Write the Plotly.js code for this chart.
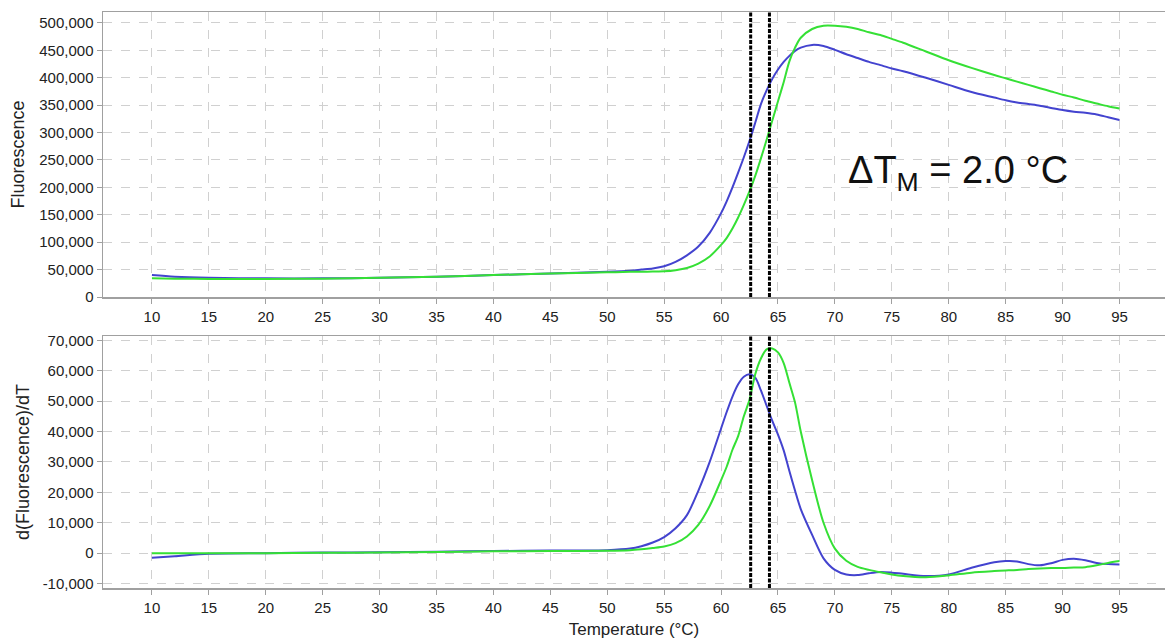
<!DOCTYPE html>
<html>
<head>
<meta charset="utf-8">
<script src="https://cdn.plot.ly/plotly-3.0.1.min.js"></script>
<style>
  html, body { margin: 0; padding: 0; background: #ffffff; }
  #chart { width: 1165px; height: 641px; }
</style>
</head>
<body>
<div id="chart"></div>
<script>
// Temperature (°C)
const temp = [10, 12, 15, 20, 25, 30, 35, 40, 45, 50, 52, 53, 54, 55, 56, 57, 58, 59, 60, 60.5,
  61, 61.5, 62, 62.5, 63, 63.5, 64, 64.5, 65, 65.5, 66, 66.5, 67, 68, 69, 70, 71, 72, 73, 74,
  75, 76, 78, 80, 82, 84, 85, 86, 87, 88, 89, 90, 91, 92, 93, 94, 95];

// Fluorescence (top panel)
const fluorBlue = [40000, 37000, 35000, 34000, 34000, 35000, 37000, 40000, 43000, 46000, 48000, 50000, 52000, 56000, 64000, 76000, 92000, 117000, 153000, 175000,
  200000, 227000, 255000, 285000, 318000, 352000, 377000, 398000, 415000, 429000, 440000, 449000, 455000, 460000, 458000, 451000, 443000, 436000, 429000, 423000,
  417000, 412000, 400000, 387000, 374000, 364000, 359000, 355000, 352000, 349000, 345000, 341000, 338000, 336000, 333000, 328000, 323000];
const fluorGreen = [34000, 33500, 33000, 33000, 33500, 35000, 37000, 40000, 43000, 45000, 46000, 46000, 46500, 47000, 49000, 53000, 61000, 74000, 95000, 108000,
  125000, 145000, 168000, 193000, 221000, 253000, 287000, 322000, 357000, 392000, 430000, 455000, 473000, 489000, 495000, 495000, 493000, 489000, 483000, 478000,
  471000, 464000, 448000, 432000, 418000, 405000, 399000, 393000, 387000, 381000, 375000, 369000, 364000, 358000, 353000, 348000, 344000];

// d(Fluorescence)/dT (bottom panel)
const derivBlue = [-1500, -1000, -200, 0, 200, 300, 500, 700, 900, 1000, 1500, 2300, 3500, 5300, 8200, 12500, 20500, 30000, 41000, 46500,
  51500, 55500, 58000, 58800, 57700, 53500, 48500, 43500, 39000, 33800, 27000, 20500, 14500, 6000, -1700, -5500, -7000, -7200, -6600, -6200,
  -6400, -6800, -7500, -7000, -4800, -3000, -2600, -2700, -3600, -4000, -3300, -2200, -1800, -2300, -3200, -3600, -3700];
const derivGreen = [0, 0, 0, 0, 100, 200, 400, 600, 700, 800, 1000, 1300, 1700, 2200, 3300, 5500, 9300, 15500, 24000, 28500,
  34000, 38500, 45000, 50500, 58800, 64000, 67000, 67300, 66000, 62500, 56000, 49500, 40000, 24000, 10000, 1500, -2500, -4500, -5500, -6300,
  -7000, -7500, -7900, -7300, -6400, -5900, -5700, -5500, -5200, -5000, -4900, -4900, -4700, -4600, -4000, -3200, -2600];

// Melting temperatures (vertical markers)
const tmBlue = 62.6;
const tmGreen = 64.25;

const xTicks = [10, 15, 20, 25, 30, 35, 40, 45, 50, 55, 60, 65, 70, 75, 80, 85, 90, 95];
const fluorTicks = [0, 50000, 100000, 150000, 200000, 250000, 300000, 350000, 400000, 450000, 500000];
const derivTicks = [-10000, 0, 10000, 20000, 30000, 40000, 50000, 60000, 70000];

const BLUE = '#4343cf';
const GREEN = '#35e035';
const FONT = 'Liberation Sans, Arial, sans-serif';

function fmt(v) { return v.toLocaleString('en-US'); }

const lineStyle = (c) => ({ color: c, width: 2, shape: 'spline', smoothing: 0.8 });

const traces = [
  { x: temp, y: fluorBlue, xaxis: 'x', yaxis: 'y', mode: 'lines', line: lineStyle(BLUE), hoverinfo: 'x+y' },
  { x: temp, y: fluorGreen, xaxis: 'x', yaxis: 'y', mode: 'lines', line: lineStyle(GREEN), hoverinfo: 'x+y' },
  { x: temp, y: derivBlue, xaxis: 'x2', yaxis: 'y2', mode: 'lines', line: lineStyle(BLUE), hoverinfo: 'x+y' },
  { x: temp, y: derivGreen, xaxis: 'x2', yaxis: 'y2', mode: 'lines', line: lineStyle(GREEN), hoverinfo: 'x+y' }
];

const axisCommon = {
  showline: true, linecolor: '#a0a0a0', linewidth: 1.5, mirror: true,
  ticks: 'outside', ticklen: 5, tickcolor: '#a0a0a0', tickwidth: 1,
  showgrid: true, gridcolor: '#d0d0d0', gridwidth: 1, griddash: 'dash',
  zeroline: false,
  tickfont: { family: FONT, size: 15, color: '#222222' }
};

const xRange = [5.7, 99.0];

const layout = {
  width: 1165, height: 641,
  margin: { l: 103, r: 0, t: 12, b: 53 },
  paper_bgcolor: '#ffffff', plot_bgcolor: '#ffffff',
  showlegend: false,
  font: { family: FONT, color: '#222222' },
  xaxis: Object.assign({}, axisCommon, {
    domain: [0, 1], anchor: 'y', range: xRange,
    tickmode: 'array', tickvals: xTicks, ticktext: xTicks.map(String)
  }),
  yaxis: Object.assign({}, axisCommon, {
    domain: [0.5052, 1], anchor: 'x', range: [0, 520000],
    tickmode: 'array', tickvals: fluorTicks, ticktext: fluorTicks.map(fmt),
    title: { text: 'Fluorescence', font: { family: FONT, size: 18, color: '#222222' }, standoff: 10 }
  }),
  xaxis2: Object.assign({}, axisCommon, {
    domain: [0, 1], anchor: 'y2', range: xRange,
    tickmode: 'array', tickvals: xTicks, ticktext: xTicks.map(String),
    title: { text: 'Temperature (°C)', font: { family: FONT, size: 17, color: '#222222' }, standoff: 8 }
  }),
  yaxis2: Object.assign({}, axisCommon, {
    domain: [0, 0.4375], anchor: 'x2', range: [-11450, 71400],
    tickmode: 'array', tickvals: derivTicks, ticktext: derivTicks.map(fmt),
    title: { text: 'd(Fluorescence)/dT', font: { family: FONT, size: 18, color: '#222222' }, standoff: 8 }
  }),
  shapes: [
    { type: 'line', xref: 'x', yref: 'y domain', x0: tmBlue, x1: tmBlue, y0: 0, y1: 1, line: { color: '#000000', width: 3, dash: '4px,1.5px' } },
    { type: 'line', xref: 'x', yref: 'y domain', x0: tmGreen, x1: tmGreen, y0: 0, y1: 1, line: { color: '#000000', width: 3, dash: '4px,1.5px' } },
    { type: 'line', xref: 'x2', yref: 'y2 domain', x0: tmBlue, x1: tmBlue, y0: 0, y1: 1, line: { color: '#000000', width: 3, dash: '4px,1.5px' } },
    { type: 'line', xref: 'x2', yref: 'y2 domain', x0: tmGreen, x1: tmGreen, y0: 0, y1: 1, line: { color: '#000000', width: 3, dash: '4px,1.5px' } }
  ],
  annotations: [
    { xref: 'x', yref: 'y', x: 80.8, y: 226000, xanchor: 'center', yanchor: 'middle', showarrow: false,
      text: 'ΔT<sub>M</sub> = 2.0 °C', font: { family: FONT, size: 38, color: '#111111' } }
  ]
};

Plotly.newPlot('chart', traces, layout, { displayModeBar: false, staticPlot: true });
</script>
</body>
</html>
